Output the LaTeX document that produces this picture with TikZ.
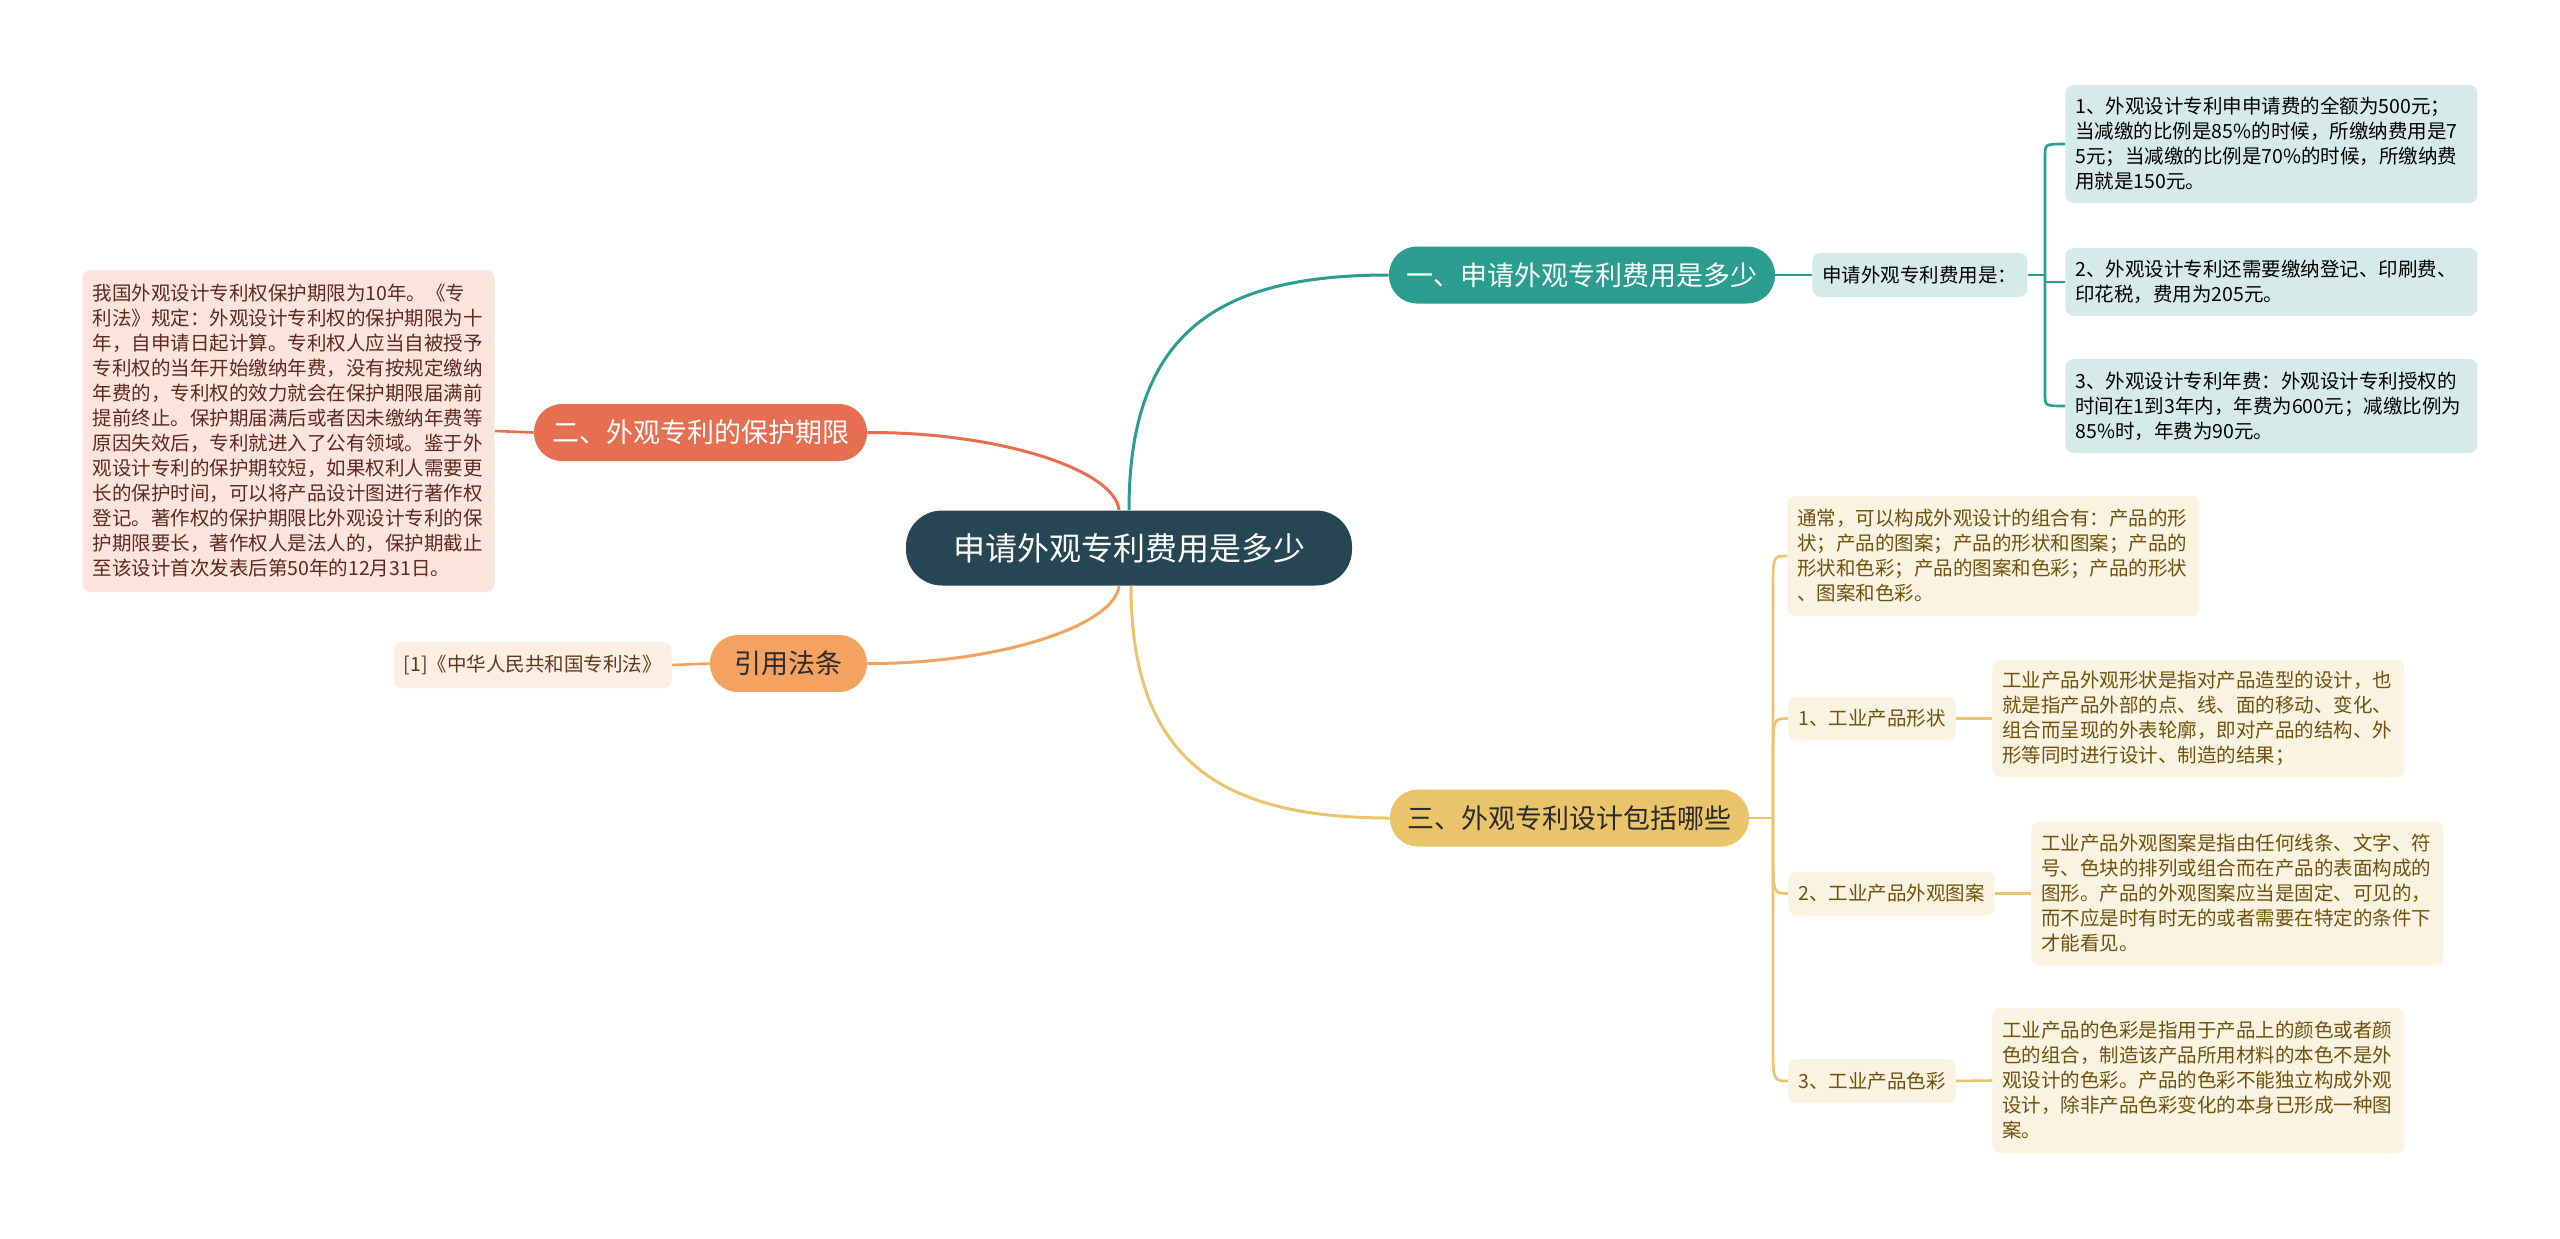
\documentclass[tikz,border=0pt]{standalone}
\usepackage{fontspec}
\setmainfont{Noto Sans CJK SC}
\definecolor{cdark}{HTML}{264653}
\definecolor{cteal}{HTML}{2A9D8F}
\definecolor{cred}{HTML}{E76F51}
\definecolor{corange}{HTML}{F4A261}
\definecolor{cyellow}{HTML}{E9C46A}
\definecolor{fteal}{HTML}{D6EBE8}
\definecolor{fpink}{HTML}{FBE4DE}
\definecolor{tpink}{HTML}{5E2A1C}
\definecolor{fpeach}{HTML}{FDEEE3}
\definecolor{tpeach}{HTML}{5C3A1E}
\definecolor{fyellow}{HTML}{FAF3E1}
\definecolor{tyellow}{HTML}{6E520E}
\definecolor{tdark}{HTML}{2B2B2B}
\tikzset{
  mainbox/.style={rounded corners=18pt, fill=cdark, text=white, font=\fontsize{16}{19}\selectfont, minimum width=223pt, minimum height=37.5pt, inner sep=0pt},
  branchbox/.style={rounded corners=14pt, minimum height=28.5pt, inner sep=0pt, font=\fontsize{13.5}{16}\selectfont},
  detailbox/.style={rounded corners=4pt, align=left, anchor=west, inner xsep=5pt, inner ysep=0pt, text width=196pt, font=\fontsize{9.75}{12.5}\selectfont},
  smallbox/.style={rounded corners=4pt, anchor=west, inner xsep=5pt, inner ysep=0pt, minimum height=22pt, font=\fontsize{9.75}{12.5}\selectfont},
  mainline/.style={line width=1.5pt},
  subline/.style={line width=1.3pt},
}
\begin{document}
\begin{tikzpicture}[x=0.5pt,y=-0.5pt]
\useasboundingbox (0,0) rectangle (2560,1238);
\fill[white] (0,0) rectangle (2560,1238);

% centre and branches
\node[mainbox] (center) at (1129,548) {申请外观专利费用是多少};
\node[branchbox, fill=cteal, text=white, minimum width=193pt] (b1) at (1582,275) {一、申请外观专利费用是多少};
\node[branchbox, fill=cred, text=white, minimum width=166.5pt] (b2) at (700.5,432.5) {二、外观专利的保护期限};
\node[branchbox, fill=corange, text=tdark, minimum width=78.5pt] (b4) at (788.5,663.5) {引用法条};
\node[branchbox, fill=cyellow, text=tdark, minimum width=179.5pt] (b3) at (1569.5,818) {三、外观专利设计包括哪些};

% branch 1 children
\node[smallbox, fill=fteal, text=black] (s1) at (1812,275) {申请外观专利费用是：};
\node[detailbox, fill=fteal, text=black, minimum height=59pt] (t1) at (2065,144) {1、外观设计专利申申请费的全额为500元；\\当减缴的比例是85\%的时候，所缴纳费用是7\\5元；当减缴的比例是70\%的时候，所缴纳费\\用就是150元。};
\node[detailbox, fill=fteal, text=black, minimum height=34pt] (t2) at (2065,282) {2、外观设计专利还需要缴纳登记、印刷费、\\印花税，费用为205元。};
\node[detailbox, fill=fteal, text=black, minimum height=47pt] (t3) at (2065,406) {3、外观设计专利年费：外观设计专利授权的\\时间在1到3年内，年费为600元；减缴比例为\\85\%时，年费为90元。};

% branch 2 child
\node[detailbox, anchor=east, fill=fpink, text=tpink, minimum height=161pt] (l1) at (495,431) {我国外观设计专利权保护期限为10年。《专\\利法》规定：外观设计专利权的保护期限为十\\年，自申请日起计算。专利权人应当自被授予\\专利权的当年开始缴纳年费，没有按规定缴纳\\年费的，专利权的效力就会在保护期限届满前\\提前终止。保护期届满后或者因未缴纳年费等\\原因失效后，专利就进入了公有领域。鉴于外\\观设计专利的保护期较短，如果权利人需要更\\长的保护时间，可以将产品设计图进行著作权\\登记。著作权的保护期限比外观设计专利的保\\护期限要长，著作权人是法人的，保护期截止\\至该设计首次发表后第50年的12月31日。};

% reference child
\node[smallbox, anchor=east, fill=fpeach, text=tpeach, minimum height=23pt] (r1) at (672,665) {[1]《中华人民共和国专利法》};

% branch 3 children
\node[detailbox, fill=fyellow, text=tyellow, minimum height=60pt] (y0) at (1787,556) {通常，可以构成外观设计的组合有：产品的形\\状；产品的图案；产品的形状和图案；产品的\\形状和色彩；产品的图案和色彩；产品的形状\\、图案和色彩。};
\node[smallbox, fill=fyellow, text=tyellow] (y1) at (1788,718.5) {1、工业产品形状};
\node[detailbox, fill=fyellow, text=tyellow, minimum height=58.5pt] (d1) at (1992,718.5) {工业产品外观形状是指对产品造型的设计，也\\就是指产品外部的点、线、面的移动、变化、\\组合而呈现的外表轮廓，即对产品的结构、外\\形等同时进行设计、制造的结果；};
\node[smallbox, fill=fyellow, text=tyellow] (y2) at (1788,893.5) {2、工业产品外观图案};
\node[detailbox, fill=fyellow, text=tyellow, minimum height=71.5pt] (d2) at (2031,893.5) {工业产品外观图案是指由任何线条、文字、符\\号、色块的排列或组合而在产品的表面构成的\\图形。产品的外观图案应当是固定、可见的，\\而不应是时有时无的或者需要在特定的条件下\\才能看见。};
\node[smallbox, fill=fyellow, text=tyellow] (y3) at (1788,1081) {3、工业产品色彩};
\node[detailbox, fill=fyellow, text=tyellow, minimum height=72.5pt] (d3) at (1992,1080.5) {工业产品的色彩是指用于产品上的颜色或者颜\\色的组合，制造该产品所用材料的本色不是外\\观设计的色彩。产品的色彩不能独立构成外观\\设计，除非产品色彩变化的本身已形成一种图\\案。};

% main connectors
\draw[mainline, cteal] (center.north) .. controls (1129,330) and (1220,275) .. (b1.west);
\draw[mainline, cred] ([xshift=-5pt]center.north) .. controls (1115,470) and (1000,432) .. (b2.east);
\draw[mainline, corange] ([xshift=-5pt]center.south) .. controls (1115,625) and (1000,664) .. (b4.east);
\draw[mainline, cyellow] ([xshift=1pt]center.south) .. controls (1131,760) and (1220,818) .. (b3.west);

% branch 1 connectors
\coordinate (jt) at (2045,275);
\draw[subline, cteal] (b1.east) -- (s1.west);
\draw[subline, cteal] (s1.east) -- (jt);
\draw[subline, cteal] (jt) -- (2045,156) .. controls (2045,144) .. (t1.west);
\draw[subline, cteal] (jt) -- (2045,394) .. controls (2045,406) .. (t3.west);
\draw[subline, cteal] (2045,282) -- (t2.west);

% branch 2 / reference connectors
\draw[subline, cred] (b2.west) -- (l1.east);
\draw[subline, corange] (b4.west) -- (r1.east);

% branch 3 connectors
\coordinate (jy) at (1773,818);
\draw[subline, cyellow] (b3.east) -- (jy);
\draw[subline, cyellow] (jy) -- (1773,590) .. controls (1773,556) .. (y0.west);
\draw[subline, cyellow] (jy) -- (1773,760) .. controls (1773,718.5) .. (y1.west);
\draw[subline, cyellow] (jy) -- (1773,850) .. controls (1773,893.5) .. (y2.west);
\draw[subline, cyellow] (jy) -- (1773,1040) .. controls (1773,1081) .. (y3.west);
\draw[subline, cyellow] (y1.east) -- (d1.west);
\draw[subline, cyellow] (y2.east) -- (d2.west);
\draw[subline, cyellow] (y3.east) -- (d3.west);
\end{tikzpicture}
\end{document}
